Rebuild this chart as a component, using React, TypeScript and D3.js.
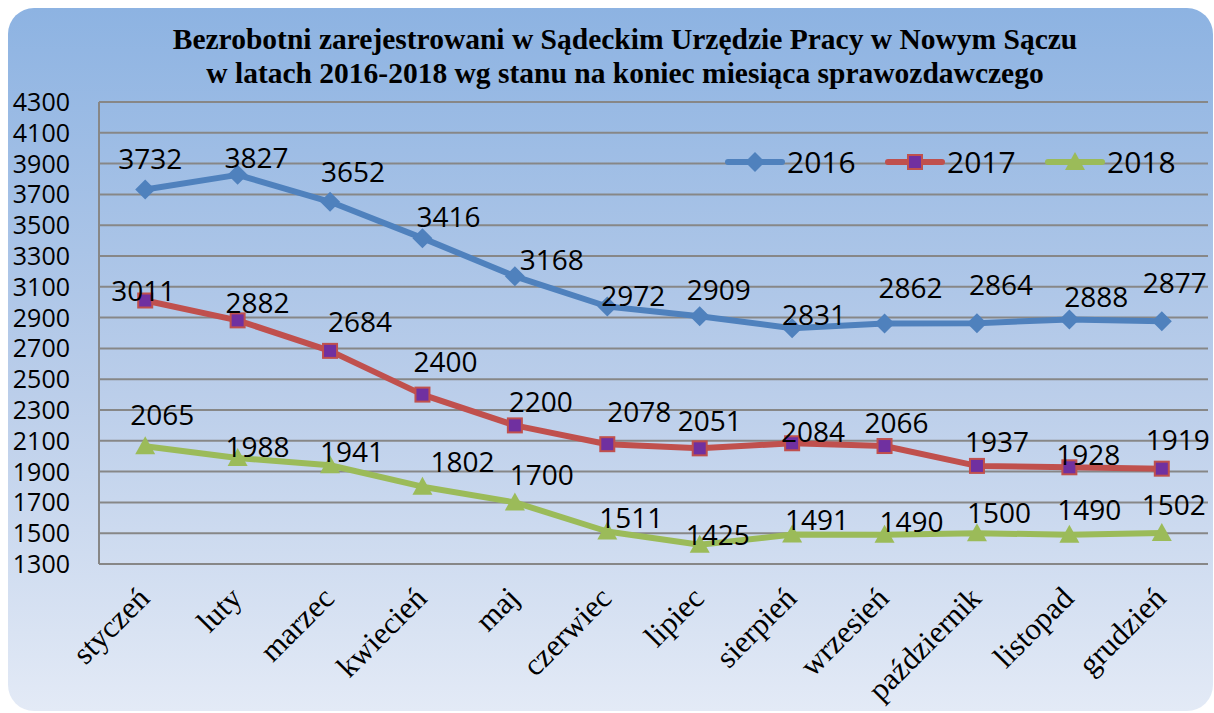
import React, { useEffect, useRef } from 'react';
import * as d3 from 'd3';

const months = ['styczeń', 'luty', 'marzec', 'kwiecień', 'maj', 'czerwiec', 'lipiec', 'sierpień', 'wrzesień', 'październik', 'listopad', 'grudzień'];
const values2016 = [3732, 3827, 3652, 3416, 3168, 2972, 2909, 2831, 2862, 2864, 2888, 2877];
const values2017 = [3011, 2882, 2684, 2400, 2200, 2078, 2051, 2084, 2066, 1937, 1928, 1919];
const values2018 = [2065, 1988, 1941, 1802, 1700, 1511, 1425, 1491, 1490, 1500, 1490, 1502];
const yTicks = [1300, 1500, 1700, 1900, 2100, 2300, 2500, 2700, 2900, 3100, 3300, 3500, 3700, 3900, 4100, 4300];
const titleLines = [
  'Bezrobotni zarejestrowani w Sądeckim Urzędzie Pracy w Nowym Sączu',
  'w latach 2016-2018 wg stanu na koniec miesiąca sprawozdawczego'
];

// label placement in the original was hand-tuned, offsets of the label centre from the point
const nudge2016 = [[5, -30], [19, -17], [23, -30], [26, -21], [37, -16], [26, -11], [19, -26], [22, -13], [26, -35], [24, -38], [27, -22], [13, -38]];
const nudge2017 = [[-2, -10], [20, -17], [30, -29], [23, -33], [26, -23], [32, -32], [10, -27], [21, -11], [12, -23], [20, -24], [19, -12], [16, -29]];
const nudge2018 = [[17, -31], [20, -11], [22, -13], [40, -25], [27, -27], [24, -14], [18, -10], [25, -15], [27, -13], [22, -20], [20, -25], [12, -28]];

const W = 1214;
const H = 713;
const plot = { left: 99, right: 1208, top: 102, bottom: 564 };
const sans = '"Open Sans", "Liberation Sans", sans-serif';
const serif = '"Liberation Serif", "Times New Roman", serif';

const series = [
  { name: '2016', values: values2016, nudge: nudge2016, color: '#4F81BD', marker: 'diamond' },
  { name: '2017', values: values2017, nudge: nudge2017, color: '#C0504D', marker: 'square' },
  { name: '2018', values: values2018, nudge: nudge2018, color: '#9BBB59', marker: 'triangle' }
];

function drawMarker(g, type, color, x, y) {
  if (type === 'diamond') {
    g.append('path')
      .attr('d', `M${x},${y - 10}L${x + 10},${y}L${x},${y + 10}L${x - 10},${y}Z`)
      .attr('fill', color);
  } else if (type === 'square') {
    g.append('rect')
      .attr('x', x - 7)
      .attr('y', y - 7)
      .attr('width', 14)
      .attr('height', 14)
      .attr('fill', '#7030A0')
      .attr('stroke', color)
      .attr('stroke-width', 2);
  } else {
    g.append('path')
      .attr('d', `M${x},${y - 10}L${x + 10},${y + 8}L${x - 10},${y + 8}Z`)
      .attr('fill', color);
  }
}

export default function App() {
  const svgRef = useRef(null);

  useEffect(() => {
    const svg = d3.select(svgRef.current);
    svg.selectAll('*').remove();

    const defs = svg.append('defs');
    const grad = defs.append('linearGradient')
      .attr('id', 'bg')
      .attr('x1', 0).attr('y1', 0)
      .attr('x2', 0).attr('y2', 1);
    grad.append('stop').attr('offset', '0%').attr('stop-color', '#8DB3E2');
    grad.append('stop').attr('offset', '55%').attr('stop-color', '#BBCEEA');
    grad.append('stop').attr('offset', '100%').attr('stop-color', '#E3EAF6');

    svg.append('rect')
      .attr('width', W)
      .attr('height', H)
      .attr('fill', '#fff');

    svg.append('rect')
      .attr('x', 8)
      .attr('y', 8)
      .attr('width', 1205)
      .attr('height', 703)
      .attr('rx', 26)
      .attr('fill', 'url(#bg)');

    // title
    svg.append('g')
      .selectAll('text')
      .data(titleLines)
      .enter()
      .append('text')
      .attr('x', 625)
      .attr('y', (d, i) => 49 + i * 34)
      .attr('text-anchor', 'middle')
      .attr('font-family', serif)
      .attr('font-weight', 'bold')
      .attr('font-size', 29.5)
      .attr('fill', '#000')
      .text((d) => d);

    const x = d3.scalePoint()
      .domain(months)
      .range([plot.left, plot.right])
      .padding(0.5);

    const y = d3.scaleLinear()
      .domain([1300, 4300])
      .range([plot.bottom, plot.top]);

    // gridlines
    svg.append('g')
      .selectAll('line')
      .data(yTicks)
      .enter()
      .append('line')
      .attr('x1', plot.left)
      .attr('x2', plot.right)
      .attr('y1', (d) => y(d))
      .attr('y2', (d) => y(d))
      .attr('stroke', '#878787')
      .attr('stroke-width', 2);

    svg.append('line')
      .attr('x1', plot.left)
      .attr('x2', plot.left)
      .attr('y1', plot.top)
      .attr('y2', plot.bottom)
      .attr('stroke', '#878787')
      .attr('stroke-width', 2);

    // y labels
    svg.append('g')
      .selectAll('text')
      .data(yTicks)
      .enter()
      .append('text')
      .attr('x', 70)
      .attr('y', (d) => y(d) + 9)
      .attr('text-anchor', 'end')
      .attr('font-family', sans)
      .attr('font-size', 25)
      .attr('fill', '#000')
      .text((d) => d);

    // x labels
    svg.append('g')
      .selectAll('text')
      .data(months)
      .enter()
      .append('text')
      .attr('transform', (d) => `translate(${x(d) + 6},${600}) rotate(-45)`)
      .attr('text-anchor', 'end')
      .attr('font-family', serif)
      .attr('font-size', 31)
      .attr('fill', '#000')
      .text((d) => d);

    const line = d3.line()
      .x((d, i) => x(months[i]))
      .y((d) => y(d));

    series.forEach((s) => {
      svg.append('path')
        .datum(s.values)
        .attr('d', line)
        .attr('fill', 'none')
        .attr('stroke', s.color)
        .attr('stroke-width', 6)
        .attr('stroke-linejoin', 'round');
      const mg = svg.append('g');
      s.values.forEach((v, i) => drawMarker(mg, s.marker, s.color, x(months[i]), y(v)));
    });

    series.forEach((s) => {
      svg.append('g')
        .selectAll('text')
        .data(s.values)
        .enter()
        .append('text')
        .attr('x', (d, i) => x(months[i]) + s.nudge[i][0])
        .attr('y', (d, i) => y(d) + s.nudge[i][1] + 10)
        .attr('text-anchor', 'middle')
        .attr('font-family', sans)
        .attr('font-size', 28)
        .attr('fill', '#000')
        .text((d) => d);
    });

    // legend
    const legend = svg.append('g');
    series.forEach((s, i) => {
      const lx = 787 + i * 160;
      const ly = 162;
      legend.append('line')
        .attr('x1', lx - 59)
        .attr('x2', lx - 5)
        .attr('y1', ly)
        .attr('y2', ly)
        .attr('stroke', s.color)
        .attr('stroke-width', 6)
        .attr('stroke-linecap', 'round');
      drawMarker(legend, s.marker, s.color, lx - 32, ly);
      legend.append('text')
        .attr('x', lx)
        .attr('y', ly + 11)
        .attr('font-family', sans)
        .attr('font-size', 30)
        .attr('fill', '#000')
        .text(s.name);
    });
  }, []);

  return (
    <svg
      ref={svgRef}
      width={W}
      height={H}
      style={{ position: 'absolute', left: 0, top: 0 }}
    />
  );
}
